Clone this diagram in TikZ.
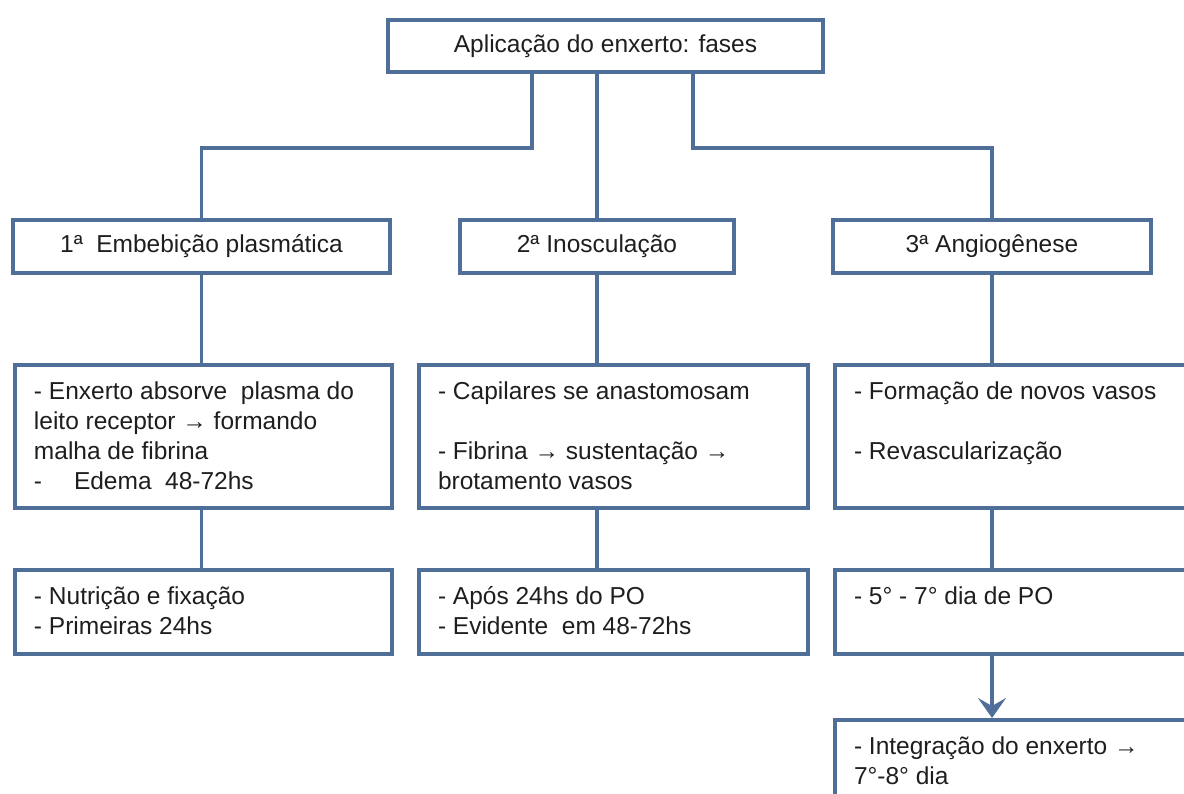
\documentclass[tikz,border=0pt]{standalone}
\usepackage{fontspec}
\setmainfont{Liberation Sans}
\usetikzlibrary{arrows.meta}
\definecolor{linha}{RGB}{79,110,152}
\definecolor{texto}{RGB}{30,30,30}
\newcommand{\faseTxt}[3]{\parbox[b][#2][t]{#1}{\vspace*{13pt}\raggedright\strut #3}}
\tikzset{
  caixa/.style={draw=linha, line width=4pt, rectangle, inner sep=0pt,
    text=texto, font=\fontsize{24.5}{30}\selectfont},
  lista/.style={caixa, anchor=north west, inner xsep=19pt, inner ysep=0pt},
  conn/.style={draw=linha, line width=3.5pt}
}
\begin{document}
\begin{tikzpicture}[x=1pt, y=-1pt]
  \useasboundingbox (0,0) rectangle (1184,794);
  % topo
  \node[caixa, minimum width=435pt, minimum height=52pt] (apl) at (605.5,46) {Aplicação do enxerto: fases};
  % fases
  \node[caixa, minimum width=377pt, minimum height=53pt] (emb) at (201.5,246.5) {1ª\hspace{0.55em}Embebição plasmática};
  \node[caixa, minimum width=274pt, minimum height=53pt] (ino) at (597,246.5) {2ª Inosculação};
  \node[caixa, minimum width=318pt, minimum height=53pt] (ang) at (992,246.5) {3ª Angiogênese};
  % descricao
  \node[lista] (embtx) at (13,363) {\faseTxt{339pt}{143pt}{- Enxerto absorve\ \ plasma do\\ leito receptor → formando\\ malha de fibrina\\ -\hspace{1.3em}Edema\ \ 48-72hs}};
  \node[lista] (inotx) at (417,363) {\faseTxt{351pt}{143pt}{- Capilares se anastomosam\\[30pt] - Fibrina → sustentação →\\ brotamento vasos}};
  \node[lista] (angtx) at (833,363) {\faseTxt{339pt}{143pt}{- Formação de novos vasos\\[30pt] - Revascularização}};
  % tempo
  \node[lista] (nutr) at (13,568) {\faseTxt{339pt}{84pt}{- Nutrição e fixação\\ - Primeiras 24hs}};
  \node[lista] (apos) at (417,568) {\faseTxt{351pt}{84pt}{- Após 24hs do PO\\ - Evidente\ \ em 48-72hs}};
  \node[lista] (dia) at (833,568) {\faseTxt{339pt}{84pt}{- 5° - 7° dia de PO}};
  \node[lista] (integ) at (833,718) {\faseTxt{339pt}{112pt}{- Integração do enxerto →\\ 7°-8° dia}};
  % ligacoes
  \coordinate (ramoE) at (532,148);
  \coordinate (ramoD) at (693,148);
  \draw[conn] (apl.south -| ramoE) -- (ramoE) -| (emb.north);
  \draw[conn] (apl.south -| ino.north) -- (ino.north);
  \draw[conn] (apl.south -| ramoD) -- (ramoD) -| (ang.north);
  \draw[conn] (emb.south) -- (embtx.north -| emb.south);
  \draw[conn] (ino.south) -- (inotx.north -| ino.south);
  \draw[conn] (ang.south) -- (angtx.north -| ang.south);
  \draw[conn] (embtx.south -| emb.south) -- (nutr.north -| emb.south);
  \draw[conn] (inotx.south -| ino.south) -- (apos.north -| ino.south);
  \draw[conn] (angtx.south -| ang.south) -- (dia.north -| ang.south);
  \draw[conn, -{Stealth[length=20pt, width=28pt, inset=8pt]}] (dia.south -| ang.south) -- (integ.north -| ang.south);
\end{tikzpicture}
\end{document}
